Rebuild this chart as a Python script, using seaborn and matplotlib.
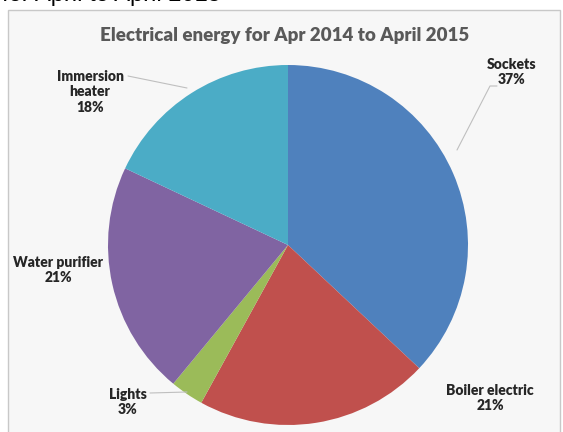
import matplotlib
matplotlib.use("Agg")
import matplotlib.pyplot as plt
import seaborn as sns
from matplotlib.patches import Rectangle

categories = ["Sockets", "Boiler electric", "Lights", "Water purifier", "Immersion\nheater"]
shares = [37, 21, 3, 21, 18]
palette_hex = ["#4F81BD", "#C0504D", "#9BBB59", "#8064A2", "#4BACC6"]
title = "Electrical energy for Apr 2014 to April 2015"
caption = "for April to April 2015"

sns.set_theme(style="white")
plt.rcParams["font.family"] = ["Lato", "DejaVu Sans"]

W, H = 563, 432
fig = plt.figure(figsize=(W / 100, H / 100), dpi=100)
fig.patch.set_facecolor("white")
ax = fig.add_axes([0, 0, 1, 1])

colors = sns.color_palette(palette_hex)
cx, cy, r = 288, H - 245, 180
wedges, _ = ax.pie(shares, colors=colors, startangle=90, counterclock=False,
                   center=(cx, cy), radius=r, frame=True,
                   wedgeprops=dict(linewidth=0, zorder=2))
ax.set_xlim(0, W)
ax.set_ylim(0, H)
ax.set_aspect("equal")
ax.axis("off")

# chart frame
ax.add_patch(Rectangle((7.5, -5), 552, H - 9.5 + 5, facecolor="#f7f7f7",
                       edgecolor="#c8c8c8", linewidth=1.0, zorder=0))

# labels (layout)
label_pos = [(512, H - 72), (490, H - 398), (128, H - 402), (58, H - 270), (90, H - 92)]
for name, v, (lx, ly) in zip(categories, shares, label_pos):
    ax.text(lx, ly, f"{name}\n{v}%", ha="center", va="center", fontsize=10,
            fontweight="heavy", color="#262626", linespacing=1.2, zorder=5)

# leader lines
leaders = [((457, H - 150), (490, H - 86), (497, H - 86)),
           ((187, H - 88), (128, H - 76), (128, H - 76)),
           ((187, H - 392), (150, H - 393), (150, H - 393))]
for pts in leaders:
    xs = [p[0] for p in pts]
    ys = [p[1] for p in pts]
    ax.plot(xs, ys, color="#bfbfbf", linewidth=0.8, zorder=4)

ax.text(W / 2 + 3, H - 36, title, ha="center", va="center", fontsize=13.5,
        fontweight="heavy", color="#595959", zorder=5)

ax.text(2, H + 5, caption, ha="left", va="center", fontsize=17,
        color="black", family=["Liberation Sans", "DejaVu Sans"], zorder=6)

fig.savefig("out.png", dpi=100, facecolor="white")
